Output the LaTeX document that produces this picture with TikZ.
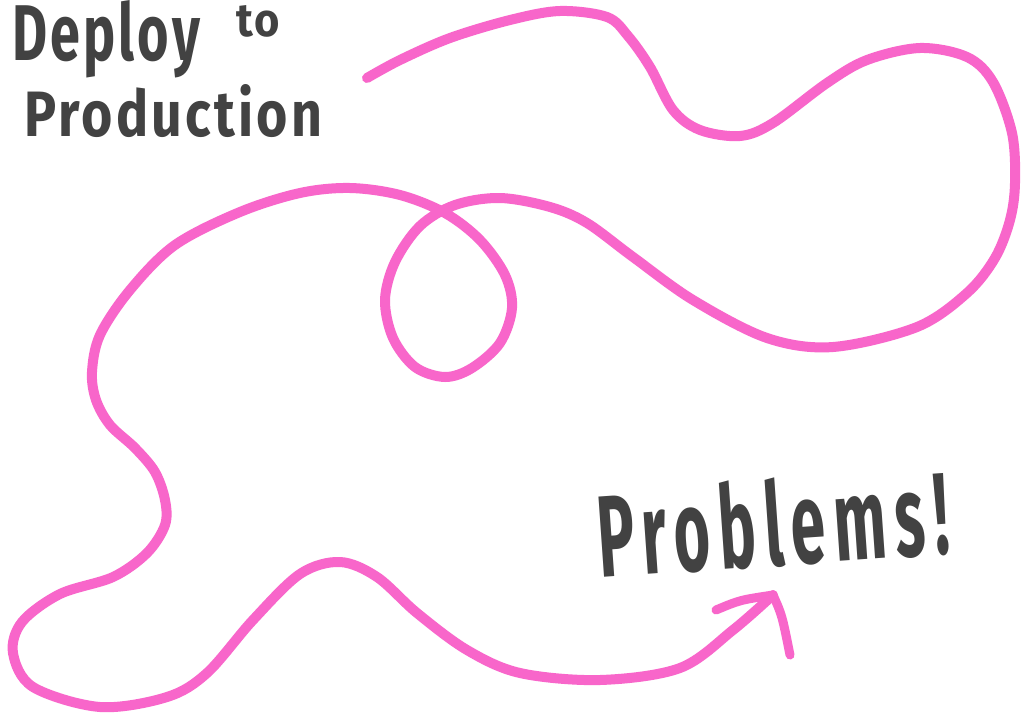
\documentclass[tikz,border=0pt]{standalone}
\usepackage{fontspec}
\setmainfont{Fira Sans}[LetterSpace=6]
\newfontfamily\spacedhand{Fira Sans}[LetterSpace=14]
\definecolor{pinkline}{RGB}{248,102,202}
\definecolor{inkgray}{RGB}{66,66,66}
\tikzset{
  squiggle/.style={draw=pinkline, line width=10pt, line cap=round, line join=round},
  hand/.style={inkgray, inner sep=0pt, font=\fontsize{80}{80}\selectfont\bfseries}
}
\begin{document}
\begin{tikzpicture}[x=1pt,y=-1pt]
\useasboundingbox[fill=white] (0,0) rectangle (1036,718);
\node[hand, anchor=base west] (deploy) at (12,60) {\resizebox{188pt}{60pt}{Deploy}\hspace{36pt}\raisebox{24pt}{\resizebox{44pt}{31pt}{to}}};
\node[hand, anchor=base west] (production) at (24,136) {\resizebox{298pt}{52pt}{Production}};
\node[hand, anchor=base west, rotate=4] (problems) at (600,578) {\resizebox{352pt}{88pt}{\spacedhand\bfseries Problems!}};
\coordinate (start) at (367,78);
\coordinate (tip) at (773,595);
\coordinate (armL) at (716,610);
\coordinate (armR) at (790,655);
\draw[squiggle] plot[smooth, tension=0.55] coordinates {
(367,78) (400,60) (450,38) (510,20) (560,11) (607,17) (628,36) (650,67) (673,110)
(700,130) (740,136) (773,123) (827,83) (867,60) (920,48) (967,57) (993,82)
(1012,133) (1015,183) (1010,220) (995,258) (967,293) (917,327) (833,347) (767,338)
(693,300) (633,257) (587,223) (550,207) (500,198) (455,205) (420,226) (395,262)
(385,300) (393,338) (415,367) (445,377) (472,368) (500,343) (512,308) (505,275)
(480,240) (445,213) (400,195) (350,188) (300,193) (240,212) (175,245) (130,290)
(100,335) (92,372) (96,400) (110,425) (135,448) (155,472) (165,500) (165,525)
(147,553) (113,577)
(60,594) (22,622) (13,653) (33,687) (100,707) (167,697) (207,673) (253,620)
(300,574) (340,562) (377,577) (417,613) (467,650) (520,673) (600,680) (680,668)
(733,630) (773,595)};
\draw[squiggle, line width=9pt] (armL) .. controls (740,600) .. (tip) .. controls (782,615) .. (armR);
\end{tikzpicture}
\end{document}
